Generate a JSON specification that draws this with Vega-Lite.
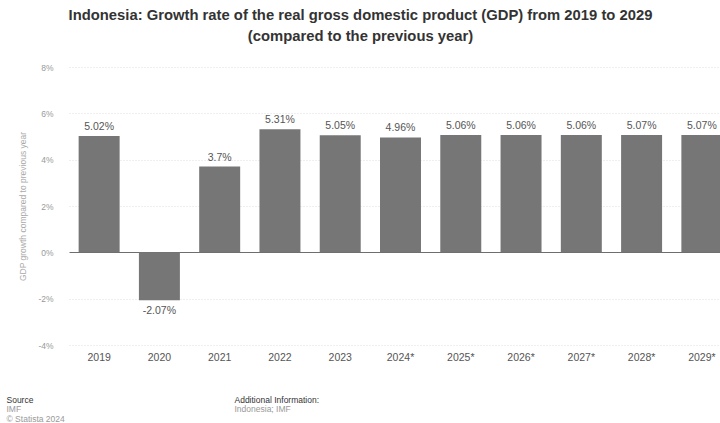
{
  "$schema": "https://vega.github.io/schema/vega-lite/v6.json",
  "width": 651,
  "height": 278,
  "autosize": {"type": "none"},
  "padding": {"left": 69, "top": 67, "right": 0, "bottom": 78},
  "background": "white",
  "config": {"view": {"stroke": null}, "font": "Liberation Sans"},
  "title": {
    "text": ["Indonesia: Growth rate of the real gross domestic product (GDP) from 2019 to 2029", "(compared to the previous year)"],
    "anchor": "middle",
    "frame": "group",
    "dx": -34,
    "fontSize": 14.8,
    "fontWeight": "bold",
    "color": "#333333",
    "lineHeight": 21,
    "offset": 19
  },
  "data": {
    "values": [
      {"year": "2019", "value": 5.02, "label": "5.02%"},
      {"year": "2020", "value": -2.07, "label": "-2.07%"},
      {"year": "2021", "value": 3.7, "label": "3.7%"},
      {"year": "2022", "value": 5.31, "label": "5.31%"},
      {"year": "2023", "value": 5.05, "label": "5.05%"},
      {"year": "2024*", "value": 4.96, "label": "4.96%"},
      {"year": "2025*", "value": 5.06, "label": "5.06%"},
      {"year": "2026*", "value": 5.06, "label": "5.06%"},
      {"year": "2027*", "value": 5.06, "label": "5.06%"},
      {"year": "2028*", "value": 5.07, "label": "5.07%"},
      {"year": "2029*", "value": 5.07, "label": "5.07%"}
    ]
  },
  "resolve": {"axis": {"x": "independent", "y": "independent"}},
  "layer": [
    {
      "mark": {"type": "bar", "color": "#767676"},
      "encoding": {
        "x": {
          "field": "year", "type": "nominal", "sort": null,
          "scale": {"domain": ["2019","2020","2021","2022","2023","2024*","2025*","2026*","2027*","2028*","2029*"], "range": [0, 663], "paddingInner": 0.32, "paddingOuter": 0.16},
          "axis": {
            "orient": "bottom", "labelAngle": 0, "labelFontSize": 10.5, "labelColor": "#555555", "labelPadding": 7,
            "ticks": false, "domain": false, "grid": false,
            "title": "Source", "titleFontSize": 8.5, "titleFontWeight": "normal", "titleColor": "#333333",
            "titleX": -63, "titleY": 57, "titleAlign": "left", "titleBaseline": "alphabetic", "titleAngle": 0
          }
        },
        "y": {
          "field": "value", "type": "quantitative",
          "scale": {"domain": [-4, 8], "nice": false, "zero": true},
          "axis": {
            "orient": "left", "values": [-4, -2, 0, 2, 4, 6, 8],
            "labelExpr": "datum.value + '%'",
            "labelFontSize": 8.5, "labelColor": "#999999", "labelPadding": 16,
            "ticks": false, "domain": false,
            "grid": true,
            "gridColor": {"condition": {"test": "datum.value === 0", "value": "#6e6e6e"}, "value": "#dedede"},
            "gridDash": {"condition": {"test": "datum.value === 0", "value": []}, "value": [1, 2]},
            "gridWidth": 1,
            "title": "GDP growth compared to previous year", "titleFontSize": 8.5, "titleFontWeight": "normal", "titleColor": "#aaaaaa",
            "titleAngle": -90, "titleX": -47, "titleY": 139, "titleAlign": "center", "titleBaseline": "middle"
          }
        }
      }
    },
    {
      "transform": [{"filter": "datum.value >= 0"}],
      "mark": {"type": "text", "baseline": "bottom", "dy": -4, "fontSize": 10.5, "color": "#555555"},
      "encoding": {
        "x": {
          "field": "year", "type": "nominal", "sort": null,
          "axis": {
            "orient": "bottom", "labels": false, "ticks": false, "domain": false, "grid": false,
            "title": ["IMF", "© Statista 2024"], "titleFontSize": 8.5, "titleFontWeight": "normal", "titleColor": "#999999",
            "titleLineHeight": 9.5,
            "titleX": -63, "titleY": 66.5, "titleAlign": "left", "titleBaseline": "alphabetic", "titleAngle": 0
          }
        },
        "y": {
          "field": "value", "type": "quantitative",
          "axis": {
            "orient": "right", "labels": false, "ticks": false, "domain": false, "grid": false,
            "title": "Additional Information:", "titleFontSize": 8.5, "titleFontWeight": "normal", "titleColor": "#333333",
            "titleAngle": 0, "titleX": -486, "titleY": 335, "titleAlign": "left", "titleBaseline": "alphabetic"
          }
        },
        "text": {"field": "label"}
      }
    },
    {
      "transform": [{"filter": "datum.value < 0"}],
      "mark": {"type": "text", "baseline": "top", "dy": 6, "fontSize": 10.5, "color": "#555555"},
      "encoding": {
        "x": {
          "field": "year", "type": "nominal", "sort": null,
          "axis": {
            "orient": "bottom", "labels": false, "ticks": false, "domain": false, "grid": false,
            "title": "Indonesia; IMF", "titleFontSize": 8.5, "titleFontWeight": "normal", "titleColor": "#999999",
            "titleX": 165, "titleY": 66.5, "titleAlign": "left", "titleBaseline": "alphabetic", "titleAngle": 0
          }
        },
        "y": {"field": "value", "type": "quantitative", "axis": null},
        "text": {"field": "label"}
      }
    }
  ]
}
